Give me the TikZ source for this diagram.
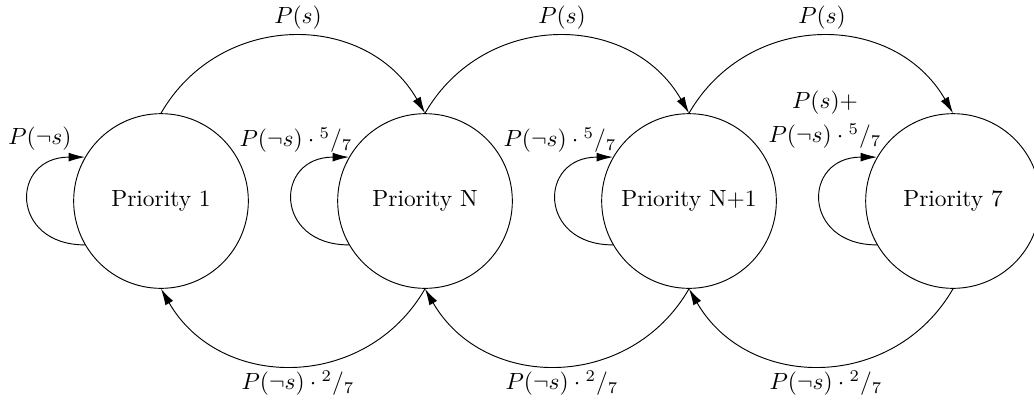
\documentclass[tikz,border=0pt]{standalone}
\usetikzlibrary{arrows.meta}
\tikzset{
  state/.style={draw, circle, minimum size=2.62cm, inner sep=0pt, line width=0.4pt},
  arr/.style={-{Latex[length=7pt,width=3.8pt]}, line width=0.4pt},
  lbl/.style={inner sep=0pt}
}
\begin{document}
\begin{tikzpicture}[x=0.015cm, y=0.015cm]
\useasboundingbox (0,0) rectangle (1034,399);
\node[state] (c1) at (161,198) {Priority 1};
\node[state] (c2) at (425,198) {Priority N};
\node[state] (c3) at (689,198) {Priority N+1};
\node[state] (c4) at (953,198) {Priority 7};
% top arcs
\draw[arr] (c1.north) to[out=60,in=120,looseness=1.15] (c2.north);
\draw[arr] (c2.north) to[out=60,in=120,looseness=1.15] (c3.north);
\draw[arr] (c3.north) to[out=60,in=120,looseness=1.15] (c4.north);
% bottom arcs
\draw[arr] (c2.south) to[out=-120,in=-60,looseness=1.15] (c1.south);
\draw[arr] (c3.south) to[out=-120,in=-60,looseness=1.15] (c2.south);
\draw[arr] (c4.south) to[out=-120,in=-60,looseness=1.15] (c3.south);
% loops
\foreach \c in {c1,c2,c3,c4}{
  \draw[arr] (\c.210) .. controls +(-75,0) and +(-75,0) .. (\c.150);
}
% labels
\node[lbl] (t1) at (298,381) {$P(s)$};
\node[lbl] (t2) at (562,381) {$P(s)$};
\node[lbl] (t3) at (822,381) {$P(s)$};
\node[lbl] (b1) at (298,16) {$P(\neg s)\cdot{}^2/_7$};
\node[lbl] (b2) at (562,16) {$P(\neg s)\cdot{}^2/_7$};
\node[lbl] (b3) at (826,16) {$P(\neg s)\cdot{}^2/_7$};
\node[lbl] (l1) at (40,260) {$P(\neg s)$};
\node[lbl] (l2) at (296,259) {$P(\neg s)\cdot{}^5/_7$};
\node[lbl] (l3) at (560,259) {$P(\neg s)\cdot{}^5/_7$};
\node[lbl, align=center] (l4) at (825,279) {$P(s)+$\\[2.5pt]$P(\neg s)\cdot{}^5/_7$};
\end{tikzpicture}
\end{document}
